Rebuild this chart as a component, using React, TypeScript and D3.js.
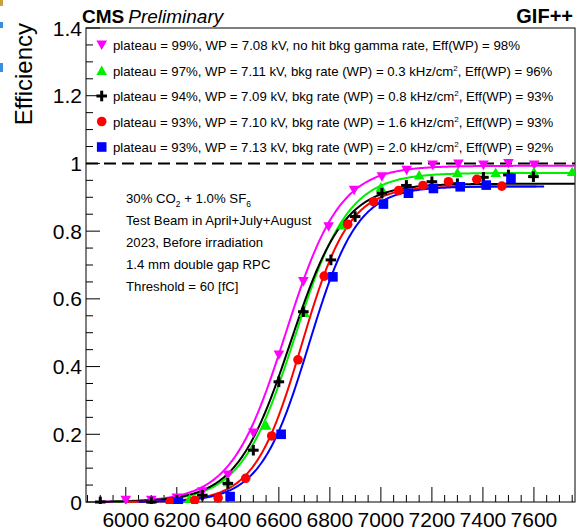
import React from "react";
import * as d3 from "d3";

// ---------- data ----------
const seriesNames = ["noBkg", "bkg03", "bkg08", "bkg16", "bkg20"];
const seriesColors = ["#ff00ff", "#00ee00", "#000000", "#ff0000", "#0000ff"];
const seriesMarkers = ["triangleDown", "triangleUp", "cross", "circle", "square"];
const legendLabels = [
  ["plateau = 99%, WP = 7.08 kV, no hit bkg gamma rate, Eff(WP) = 98%", "", ""],
  ["plateau = 97%, WP = 7.11 kV, bkg rate (WP) = 0.3 kHz/cm", "2", ", Eff(WP) = 96%"],
  ["plateau = 94%, WP = 7.09 kV, bkg rate (WP) = 0.8 kHz/cm", "2", ", Eff(WP) = 93%"],
  ["plateau = 93%, WP = 7.10 kV, bkg rate (WP) = 1.6 kHz/cm", "2", ", Eff(WP) = 93%"],
  ["plateau = 93%, WP = 7.13 kV, bkg rate (WP) = 2.0 kHz/cm", "2", ", Eff(WP) = 92%"],
];

const hvNoBkg = [6000, 6100, 6200, 6300, 6400, 6500, 6600, 6696, 6795, 6895, 7004, 7101, 7203, 7304, 7402, 7500, 7601];
const effNoBkg = [0.005, 0.005, 0.012, 0.03, 0.08, 0.204, 0.434, 0.651, 0.813, 0.921, 0.961, 0.98, 0.995, 0.998, 0.995, 1.0, 0.995];

const hvBkg03 = [6100, 6250, 6400, 6550, 6700, 6850, 7000, 7150, 7300, 7450, 7600, 7750];
const effBkg03 = [0.0, 0.01, 0.06, 0.227, 0.56, 0.818, 0.93, 0.966, 0.973, 0.973, 0.975, 0.976];

const hvBkg08 = [5900, 6100, 6200, 6300, 6400, 6500, 6600, 6696, 6804, 6899, 7004, 7100, 7200, 7300, 7402, 7500, 7598];
const effBkg08 = [0.0, 0.0, 0.005, 0.02, 0.055, 0.153, 0.355, 0.562, 0.715, 0.843, 0.912, 0.935, 0.946, 0.94, 0.959, 0.966, 0.961];

const hvBkg16 = [6174, 6270, 6362, 6470, 6572, 6675, 6778, 6870, 6971, 7070, 7165, 7265, 7376, 7474];
const effBkg16 = [0.0, 0.005, 0.012, 0.07, 0.195, 0.42, 0.667, 0.82, 0.887, 0.92, 0.935, 0.946, 0.953, 0.933];

const hvBkg20 = [6206, 6409, 6609, 6812, 7010, 7108, 7206, 7311, 7413, 7510];
const effBkg20 = [0.0, 0.016, 0.2, 0.665, 0.88, 0.912, 0.926, 0.931, 0.936, 0.956];

// sigmoid fit parameters: eff = plateau / (1 + exp(-lambda (HV - HV50)))
const fitPlateau = [0.993, 0.972, 0.94, 0.932, 0.932];
const fitLambda = [0.0094, 0.0095, 0.0095, 0.0108, 0.0105];
const fitHV50 = [6626, 6662, 6645, 6690, 6718];
const fitStart = [5900, 5950, 5900, 6000, 6050];
const fitEnd = [7761, 7761, 7761, 7610, 7640];

const xTickLabels = [6000, 6200, 6400, 6600, 6800, 7000, 7200, 7400, 7600];
const yTickValues = [0, 0.2, 0.4, 0.6, 0.8, 1.0, 1.2, 1.4];
const yTickLabels = ["0", "0.2", "0.4", "0.6", "0.8", "1", "1.2", "1.4"];

const infoLines = [
  "Test Beam in April+July+August",
  "2023, Before irradiation",
  "1.4 mm double gap RPC",
  "Threshold = 60 [fC]",
];

const allHV = [hvNoBkg, hvBkg03, hvBkg08, hvBkg16, hvBkg20];
const allEff = [effNoBkg, effBkg03, effBkg08, effBkg16, effBkg20];

// ---------- layout ----------
const W = 577;
const H = 530;
const FONT = "'Liberation Sans', Arial, Helvetica, sans-serif";

const x = d3.scaleLinear().domain([5844, 7761]).range([86, 575]);
const y = d3.scaleLinear().domain([0, 1.4]).range([502, 28]);

function Marker({ type, cx, cy, color }: { type: string; cx: number; cy: number; color: string }) {
  const s = 5.3;
  if (type === "triangleDown") {
    return <path d={`M${cx - s},${cy - s * 0.85}L${cx + s},${cy - s * 0.85}L${cx},${cy + s * 0.95}Z`} fill={color} />;
  }
  if (type === "triangleUp") {
    return <path d={`M${cx - s},${cy + s * 0.85}L${cx + s},${cy + s * 0.85}L${cx},${cy - s * 0.95}Z`} fill={color} />;
  }
  if (type === "cross") {
    return (
      <g stroke={color} strokeWidth={3}>
        <line x1={cx - s} x2={cx + s} y1={cy} y2={cy} />
        <line x1={cx} x2={cx} y1={cy - s} y2={cy + s} />
      </g>
    );
  }
  if (type === "circle") {
    return <circle cx={cx} cy={cy} r={4.8} fill={color} />;
  }
  return <rect x={cx - 4.8} y={cy - 4.8} width={9.6} height={9.6} fill={color} />;
}

export default function App() {
  const line = d3
    .line<[number, number]>()
    .x((d) => x(d[0]))
    .y((d) => y(d[1]));

  const fits = seriesNames.map((_, i) => {
    const pts: [number, number][] = d3.range(fitStart[i], fitEnd[i] + 1, 5).map((hv) => [
      hv,
      fitPlateau[i] / (1 + Math.exp(-fitLambda[i] * (hv - fitHV50[i]))),
    ]);
    return line(pts) as string;
  });

  const xMinor = d3.range(5850, 7761, 50);
  const yMinor = d3.range(0, 1.4001, 0.05);

  const legendY0 = 45;
  const legendDY = 25.5;

  return (
    <svg
      width={W}
      height={H}
      style={{ position: "absolute", left: 0, top: 0, background: "#fff" }}
      fontFamily={FONT}
    >
      <rect x={0} y={0} width={W} height={H} fill="#fff" />
      {/* slide artifacts at left edge */}
      <rect x={0} y={0} width={3} height={6} fill="#c8a040" />
      <rect x={0} y={22} width={3} height={6} fill="#3a8ee0" />
      <rect x={0} y={63} width={3} height={9} fill="#3a8ee0" />

      {/* frame */}
      <rect x={86} y={28} width={489} height={474} fill="none" stroke="#000" strokeWidth={1} />

      {/* dashed line at 1 */}
      <line x1={86} x2={575} y1={y(1)} y2={y(1)} stroke="#000" strokeWidth={2} strokeDasharray="12,6" />

      {/* x ticks */}
      {xMinor.map((v) => {
        const major = v % 200 === 0;
        return (
          <line key={"xt" + v} x1={x(v)} x2={x(v)} y1={502} y2={major ? 487 : 495} stroke="#000" strokeWidth={1} />
        );
      })}
      {xTickLabels.map((v) => (
        <text key={"xl" + v} x={x(v)} y={527} fontSize={21} textAnchor="middle" fill="#000">
          {v}
        </text>
      ))}

      {/* y ticks */}
      {yMinor.map((v, i) => {
        const major = i % 4 === 0;
        return (
          <line key={"yt" + i} x1={86} x2={major ? 100 : 93} y1={y(v)} y2={y(v)} stroke="#000" strokeWidth={1} />
        );
      })}
      {yTickValues.map((v, i) => (
        <text key={"yl" + i} x={82} y={y(v) + 7.5} fontSize={21} textAnchor="end" fill="#000">
          {yTickLabels[i]}
        </text>
      ))}

      {/* y axis title */}
      <text transform="translate(32,23) rotate(-90)" fontSize={24} textAnchor="end" fill="#000">
        Efficiency
      </text>

      {/* header */}
      <text x={82} y={23} fontSize={19} fill="#000">
        <tspan fontWeight="bold">CMS</tspan>
        <tspan fontStyle="italic" dx={4}>Preliminary</tspan>
      </text>
      <text x={573} y={23} fontSize={20} fontWeight="bold" textAnchor="end" fill="#000">
        GIF++
      </text>

      {/* fit curves */}
      <g clipPath="url(#plotclip)">
        {fits.map((d, i) => (
          <path key={"fit" + i} d={d} fill="none" stroke={seriesColors[i]} strokeWidth={2} />
        ))}
        {allHV.map((hvs, i) =>
          hvs.map((hv, j) => (
            <Marker key={`m${i}-${j}`} type={seriesMarkers[i]} cx={x(hv)} cy={y(allEff[i][j])} color={seriesColors[i]} />
          ))
        )}
      </g>
      <defs>
        <clipPath id="plotclip">
          <rect x={86} y={28} width={489} height={476} />
        </clipPath>
      </defs>

      {/* legend */}
      {legendLabels.map((lab, i) => (
        <g key={"lg" + i}>
          <Marker type={seriesMarkers[i]} cx={101.7} cy={legendY0 + i * legendDY} color={seriesColors[i]} />
          {lab[1] ? (
            <text x={113} y={legendY0 + i * legendDY + 5} fontSize={13.2} fill="#000">
              {lab[0]}
              <tspan fontSize={8} dy={-5}>
                {lab[1]}
              </tspan>
              <tspan dy={5}>{lab[2]}</tspan>
            </text>
          ) : (
            <text
              x={113}
              y={legendY0 + i * legendDY + 5}
              fontSize={13.2}
              fill="#000"
              textLength={407}
              lengthAdjust="spacingAndGlyphs"
            >
              {lab[0]}
            </text>
          )}
        </g>
      ))}

      {/* info text */}
      <text x={126} y={203} fontSize={13.2} fill="#000">
        30% CO
        <tspan fontSize={8.5} dy={3.5}>2</tspan>
        <tspan dy={-3.5}> + 1.0% SF</tspan>
        <tspan fontSize={8.5} dy={3.5}>6</tspan>
      </text>
      {infoLines.map((t, i) => (
        <text key={"info" + i} x={126} y={225 + i * 22} fontSize={13.2} fill="#000">
          {t}
        </text>
      ))}
    </svg>
  );
}
